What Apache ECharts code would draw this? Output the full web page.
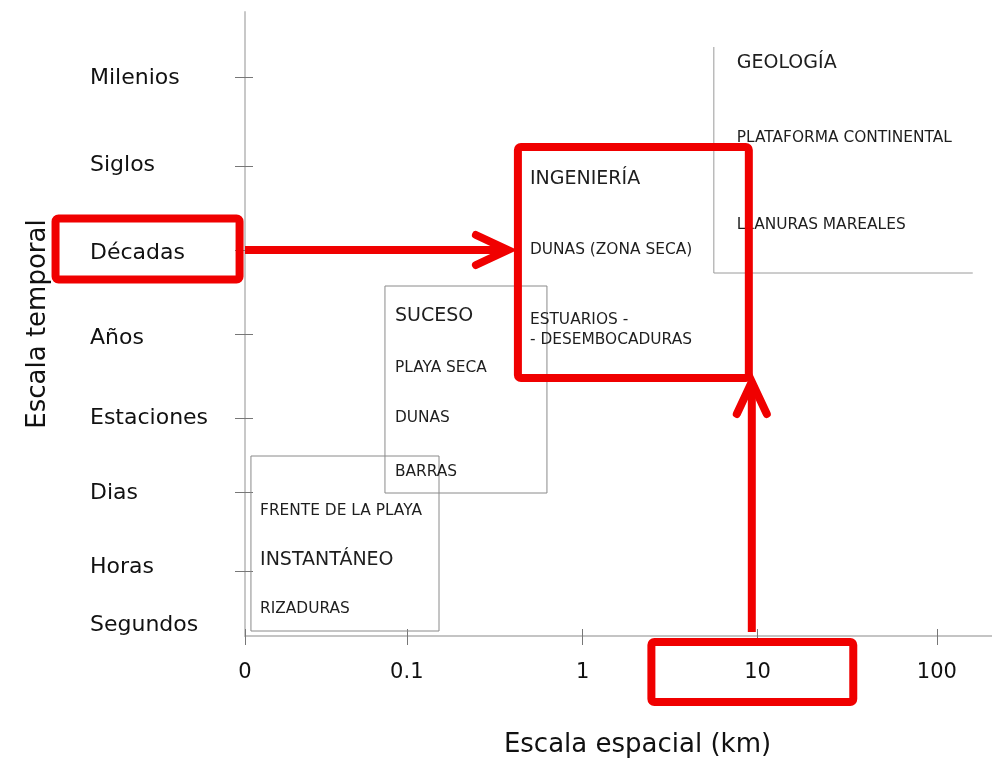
<!DOCTYPE html>
<html>
<head>
<meta charset="utf-8">
<title>Escala espacial / temporal</title>
<script src="https://cdn.jsdelivr.net/npm/echarts@6/dist/echarts.min.js"></script>
<style>
    html, body { margin: 0; padding: 0; background: #fff; }
    #chart { width: 992px; height: 763px; }
</style>
</head>
<body>
<div id="chart"></div>
<script>
// x: position along the spatial scale (one unit ~ one decade of km)
const xTickValues = [0, 0.925, 1.93, 2.93, 3.955];
const xTickLabels = ['0', '0.1', '1', '10', '100'];

// y: position along the temporal scale
const timeNames = ['Segundos', 'Horas', 'Dias', 'Estaciones', 'Años', 'Décadas', 'Siglos', 'Milenios'];
const timeLabelValues = [0.1375, 0.8625, 1.7875, 2.725, 3.725, 4.7875, 5.8875, 6.975];
const timeTickValues = [0.8125, 1.8, 2.725, 3.775, 4.825, 5.875, 6.9875];

// [x0, y0, x1, y1]
const grayBoxes = [
    [0.034, 0.0625, 1.109, 2.25],   // instantáneo
    [0.8, 1.7875, 1.726, 4.375]     // suceso
];
const openBoxes = [
    [2.68, 4.5375, 4.16, 7.3625]    // geología (left + bottom edge)
];
const redBoxes = [
    [-1.083, 4.456, -0.031, 5.219], // Décadas
    [1.56, 3.225, 2.88, 6.1125],    // ingeniería
    [2.323, -0.825, 3.477, -0.075]  // 10
];
// [fromX, fromY, toX, toY]
const arrows = [
    [0, 4.825, 1.503, 4.825],
    [2.897, 0.05, 2.897, 3.175]
];

const boxTitles = ['GEOLOGÍA', 'INGENIERÍA', 'SUCESO', 'INSTANTÁNEO'];
const boxTitlePos = [[2.811, 7.1625], [1.629, 5.7125], [0.857, 4.0], [0.086, 0.95]];
const boxItems = ['PLATAFORMA CONTINENTAL', 'LLANURAS MAREALES', 'DUNAS (ZONA SECA)',
    'ESTUARIOS -\n- DESEMBOCADURAS', 'PLAYA SECA', 'DUNAS', 'BARRAS',
    'FRENTE DE LA PLAYA', 'RIZADURAS'];
const boxItemPos = [[2.811, 6.225], [2.811, 5.1375], [1.629, 4.825], [1.629, 3.83],
    [0.857, 3.35], [0.857, 2.725], [0.857, 2.05], [0.086, 1.5625], [0.086, 0.3375]];

const FONT = 'DejaVu Sans';

function nearestLabel(value, values, labels) {
    let best = 0;
    for (let i = 1; i < values.length; i++) {
        if (Math.abs(values[i] - value) < Math.abs(values[best] - value)) best = i;
    }
    return labels[best];
}

function rectFrom(api) {
    const p0 = api.coord([api.value(0), api.value(1)]);
    const p1 = api.coord([api.value(2), api.value(3)]);
    return {
        x: Math.min(p0[0], p1[0]),
        y: Math.min(p0[1], p1[1]),
        width: Math.abs(p1[0] - p0[0]),
        height: Math.abs(p1[1] - p0[1])
    };
}

function textSeries(names, pos, size, z) {
    return {
        type: 'custom',
        z: z,
        silent: true,
        data: pos,
        renderItem: function (params, api) {
            const p = api.coord([api.value(0), api.value(1)]);
            return {
                type: 'text',
                style: {
                    text: names[params.dataIndex],
                    x: p[0],
                    y: p[1],
                    fontSize: size,
                    fontFamily: FONT,
                    lineHeight: 20,
                    fill: '#1e1e1e',
                    align: 'left',
                    verticalAlign: 'middle'
                }
            };
        }
    };
}

const chart = echarts.init(document.getElementById('chart'));

const option = {
    backgroundColor: '#fff',
    animation: false,
    textStyle: { fontFamily: FONT },
    grid: { left: 245, right: 0, top: 12, bottom: 127, containLabel: false },
    xAxis: [{
        type: 'value',
        min: 0,
        max: 4.27,
        name: 'Escala espacial (km)',
        nameLocation: 'middle',
        nameGap: 96,
        nameTextStyle: { fontSize: 26, color: '#111', fontFamily: FONT, padding: [0, 0, 0, 38] },
        axisLine: { show: true, lineStyle: { color: '#c4c4c4', width: 2 } },
        axisTick: { show: true, length: 9, customValues: xTickValues, lineStyle: { color: '#777', width: 1 } },
        axisLabel: {
            customValues: xTickValues,
            margin: 26,
            fontSize: 21,
            color: '#111',
            fontFamily: FONT,
            formatter: v => nearestLabel(v, xTickValues, xTickLabels)
        },
        splitLine: { show: false }
    }, {
        type: 'value',
        position: 'bottom',
        min: 0,
        max: 4.27,
        axisLine: { show: false },
        axisTick: { show: true, inside: true, length: 7, customValues: xTickValues, lineStyle: { color: '#777', width: 1 } },
        axisLabel: { show: false },
        splitLine: { show: false }
    }],
    yAxis: [{
        type: 'value',
        min: 0,
        max: 7.8,
        name: 'Escala temporal',
        nameLocation: 'middle',
        nameGap: 194,
        nameTextStyle: { fontSize: 26, color: '#111', fontFamily: FONT },
        axisLine: { show: true, lineStyle: { color: '#c8c8c8', width: 2 } },
        axisTick: { show: true, length: 10, customValues: timeTickValues, lineStyle: { color: '#777', width: 1 } },
        axisLabel: {
            customValues: timeLabelValues,
            margin: 155,
            align: 'left',
            fontSize: 22,
            color: '#111',
            fontFamily: FONT,
            formatter: v => nearestLabel(v, timeLabelValues, timeNames)
        },
        splitLine: { show: false }
    }, {
        type: 'value',
        position: 'left',
        min: 0,
        max: 7.8,
        axisLine: { show: false },
        axisTick: { show: true, inside: true, length: 8, customValues: timeTickValues, lineStyle: { color: '#777', width: 1 } },
        axisLabel: { show: false },
        splitLine: { show: false }
    }],
    series: [
        {
            type: 'custom',
            z: 2,
            silent: true,
            data: grayBoxes,
            renderItem: function (params, api) {
                return {
                    type: 'rect',
                    shape: rectFrom(api),
                    style: { fill: 'none', stroke: '#8a8a8a', lineWidth: 1 }
                };
            }
        },
        {
            type: 'custom',
            z: 2,
            silent: true,
            data: openBoxes,
            renderItem: function (params, api) {
                const r = rectFrom(api);
                return {
                    type: 'polyline',
                    shape: { points: [[r.x, r.y], [r.x, r.y + r.height], [r.x + r.width, r.y + r.height]] },
                    style: { fill: 'none', stroke: '#9a9a9a', lineWidth: 1 }
                };
            }
        },
        textSeries(boxTitles, boxTitlePos, 19, 3),
        textSeries(boxItems, boxItemPos, 15.4, 3),
        {
            type: 'custom',
            z: 5,
            silent: true,
            clip: false,
            data: redBoxes,
            renderItem: function (params, api) {
                const r = rectFrom(api);
                r.r = 3;
                return {
                    type: 'rect',
                    shape: r,
                    style: { fill: 'none', stroke: '#f00000', lineWidth: 8 }
                };
            }
        },
        {
            type: 'custom',
            z: 5,
            silent: true,
            clip: false,
            data: arrows,
            renderItem: function (params, api) {
                const a = api.coord([api.value(0), api.value(1)]);
                const b = api.coord([api.value(2), api.value(3)]);
                const len = Math.hypot(b[0] - a[0], b[1] - a[1]);
                const ux = (b[0] - a[0]) / len, uy = (b[1] - a[1]) / len;
                const nx = -uy, ny = ux;
                const depth = 32, half = 15;
                const back = [b[0] - ux * depth, b[1] - uy * depth];
                return {
                    type: 'group',
                    children: [{
                        type: 'line',
                        shape: { x1: a[0], y1: a[1], x2: b[0] - ux * 4, y2: b[1] - uy * 4 },
                        style: { stroke: '#f00000', lineWidth: 8 }
                    }, {
                        type: 'polyline',
                        shape: { points: [
                            [back[0] + nx * half, back[1] + ny * half],
                            [b[0], b[1]],
                            [back[0] - nx * half, back[1] - ny * half]
                        ] },
                        style: { fill: 'none', stroke: '#f00000', lineWidth: 8, lineCap: 'round', lineJoin: 'miter' }
                    }]
                };
            }
        }
    ]
};

chart.setOption(option);
</script>
</body>
</html>
